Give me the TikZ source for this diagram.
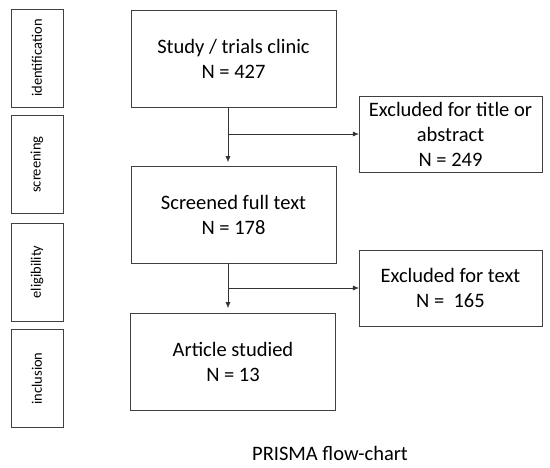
\documentclass[tikz,border=0pt]{standalone}
\usepackage{fontspec}
\setmainfont{Carlito}
\usetikzlibrary{arrows.meta}
\begin{document}
\begin{tikzpicture}[x=1pt,y=-1pt,
  stagebox/.style={draw=black!75, minimum width=52pt, minimum height=98pt, inner sep=0pt},
  stagelbl/.style={rotate=90, font=\fontsize{14.5}{17}\selectfont},
  mainbox/.style={draw=black!75, minimum width=205pt, minimum height=97pt, align=center, inner sep=0pt, font=\fontsize{20.5}{25}\selectfont},
  exclbox/.style={draw=black!75, minimum width=183pt, minimum height=76pt, align=center, inner sep=0pt, font=\fontsize{20.5}{25}\selectfont},
  flow/.style={draw=black!80, -{Latex[length=6pt,width=5pt]}}]
\useasboundingbox (0,0) rectangle (550,467);

% stages
\node[stagebox] (ident) at (37,58) {};
\node[stagebox] (screen) at (37,164.5) {};
\node[stagebox] (elig) at (37,272) {};
\node[stagebox] (incl) at (37,378.5) {};
\node[stagelbl] (identlbl) at (ident) {identification};
\node[stagelbl] (screenlbl) at (screen) {screening};
\node[stagelbl] (eliglbl) at (elig) {eligibility};
\node[stagelbl] (incllbl) at (incl) {inclusion};

% boxes
\node[mainbox] (study) at (233.5,59) {Study / trials clinic\\N = 427};
\node[mainbox] (screened) at (233.5,214.5) {Screened full text\\N = 178};
\node[mainbox] (article) at (233,362) {Article studied\\N = 13};
\node[exclbox] (exclone) at (450.5,134) {Excluded for title or\\abstract\\N = 249};
\node[exclbox] (excltwo) at (450.5,288) {Excluded for text\\N =~~165};

% arrows
\coordinate (topout) at (228,107);
\coordinate (topin) at (228,162);
\coordinate (topsplit) at (228,134);
\coordinate (lowout) at (228,263);
\coordinate (lowin) at (228,308);
\coordinate (lowsplit) at (228,288);
\draw[flow] (topout) -- (topin);
\draw[flow] (topsplit) -- (exclone.west);
\draw[flow] (lowout) -- (lowin);
\draw[flow] (lowsplit) -- (excltwo.west);

\node[font=\fontsize{20.5}{25}\selectfont] (caption) at (330,453) {PRISMA flow-chart};
\end{tikzpicture}
\end{document}
